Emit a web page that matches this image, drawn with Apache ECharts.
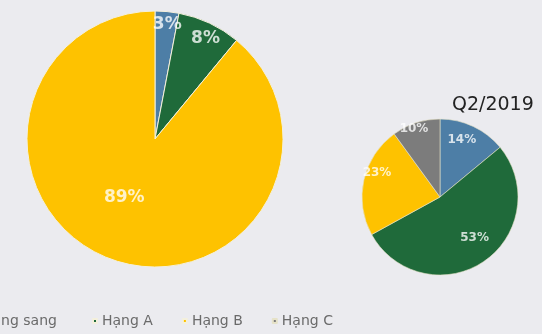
<!DOCTYPE html>
<html>
<head>
<meta charset="utf-8">
<script src="https://cdn.jsdelivr.net/npm/echarts@6/dist/echarts.min.js"></script>
<style>
  html, body { margin: 0; padding: 0; background: #ebebef; }
  #chart { width: 542px; height: 334px; }
</style>
</head>
<body>
<div id="chart"></div>
<script>
// Segment names and colours shared by both pies
const categories = ['Hạng sang', 'Hạng A', 'Hạng B', 'Hạng C'];
const colors = ['#4d7ea6', '#1f6a3a', '#fec200', '#7c7c7c'];

// Share of supply (%) by segment
const sharePrev = [3, 8, 89];        // larger pie (Hạng C absent)
const shareQ2_2019 = [14, 53, 23, 10];
const smallTitle = 'Q2/2019';

// Label nudges so each percentage sits where it reads best
const bigOffsets = [[6, -48], [22, -40], [-8, -4]];
const smallOffsets = [[4, -19], [11, 6], [-22, -15], [-13, -28]];

function buildData(values, offsets, fontSize) {
  return values.map((v, i) => ({
    name: categories[i],
    value: v,
    itemStyle: { color: colors[i] },
    label: { offset: offsets[i], fontSize: fontSize }
  }));
}

const legendText = { fontFamily: 'DejaVu Sans', fontSize: 14, color: '#6a6a6a' };
const legendBase = {
  top: 314,
  padding: 0,
  orient: 'horizontal',
  itemWidth: 4,
  itemHeight: 4,
  icon: 'rect',
  textStyle: legendText
};

const chart = echarts.init(document.getElementById('chart'), null, { renderer: 'canvas' });

chart.setOption({
  backgroundColor: '#ebebef',
  animation: false,
  title: {
    text: smallTitle,
    left: 447,
    top: 91,
    textStyle: { fontFamily: 'DejaVu Sans', fontSize: 19, fontWeight: 'normal', color: '#222' }
  },
  legend: [
    Object.assign({}, legendBase, { left: -28, data: categories.slice(0, 1) }),
    Object.assign({}, legendBase, { left: 92, itemGap: 29, data: categories.slice(1) })
  ],
  series: [
    {
      type: 'pie',
      center: [155, 139],
      radius: 128,
      startAngle: 90,
      clockwise: true,
      silent: true,
      itemStyle: { borderColor: '#f4f0dc', borderWidth: 1 },
      label: {
        position: 'inside',
        formatter: '{c}%',
        fontFamily: 'DejaVu Sans',
        fontWeight: 'bold',
        color: 'rgba(255,255,255,0.78)'
      },
      labelLine: { show: false },
      data: buildData(sharePrev, bigOffsets, 17)
    },
    {
      type: 'pie',
      center: [440, 197],
      radius: 78,
      startAngle: 90,
      clockwise: true,
      silent: true,
      itemStyle: { borderColor: '#e6e2c8', borderWidth: 0.6 },
      label: {
        position: 'inside',
        formatter: '{c}%',
        fontFamily: 'DejaVu Sans',
        fontWeight: 'bold',
        color: 'rgba(255,255,255,0.78)'
      },
      labelLine: { show: false },
      data: buildData(shareQ2_2019, smallOffsets, 12)
    }
  ]
});
</script>
</body>
</html>
